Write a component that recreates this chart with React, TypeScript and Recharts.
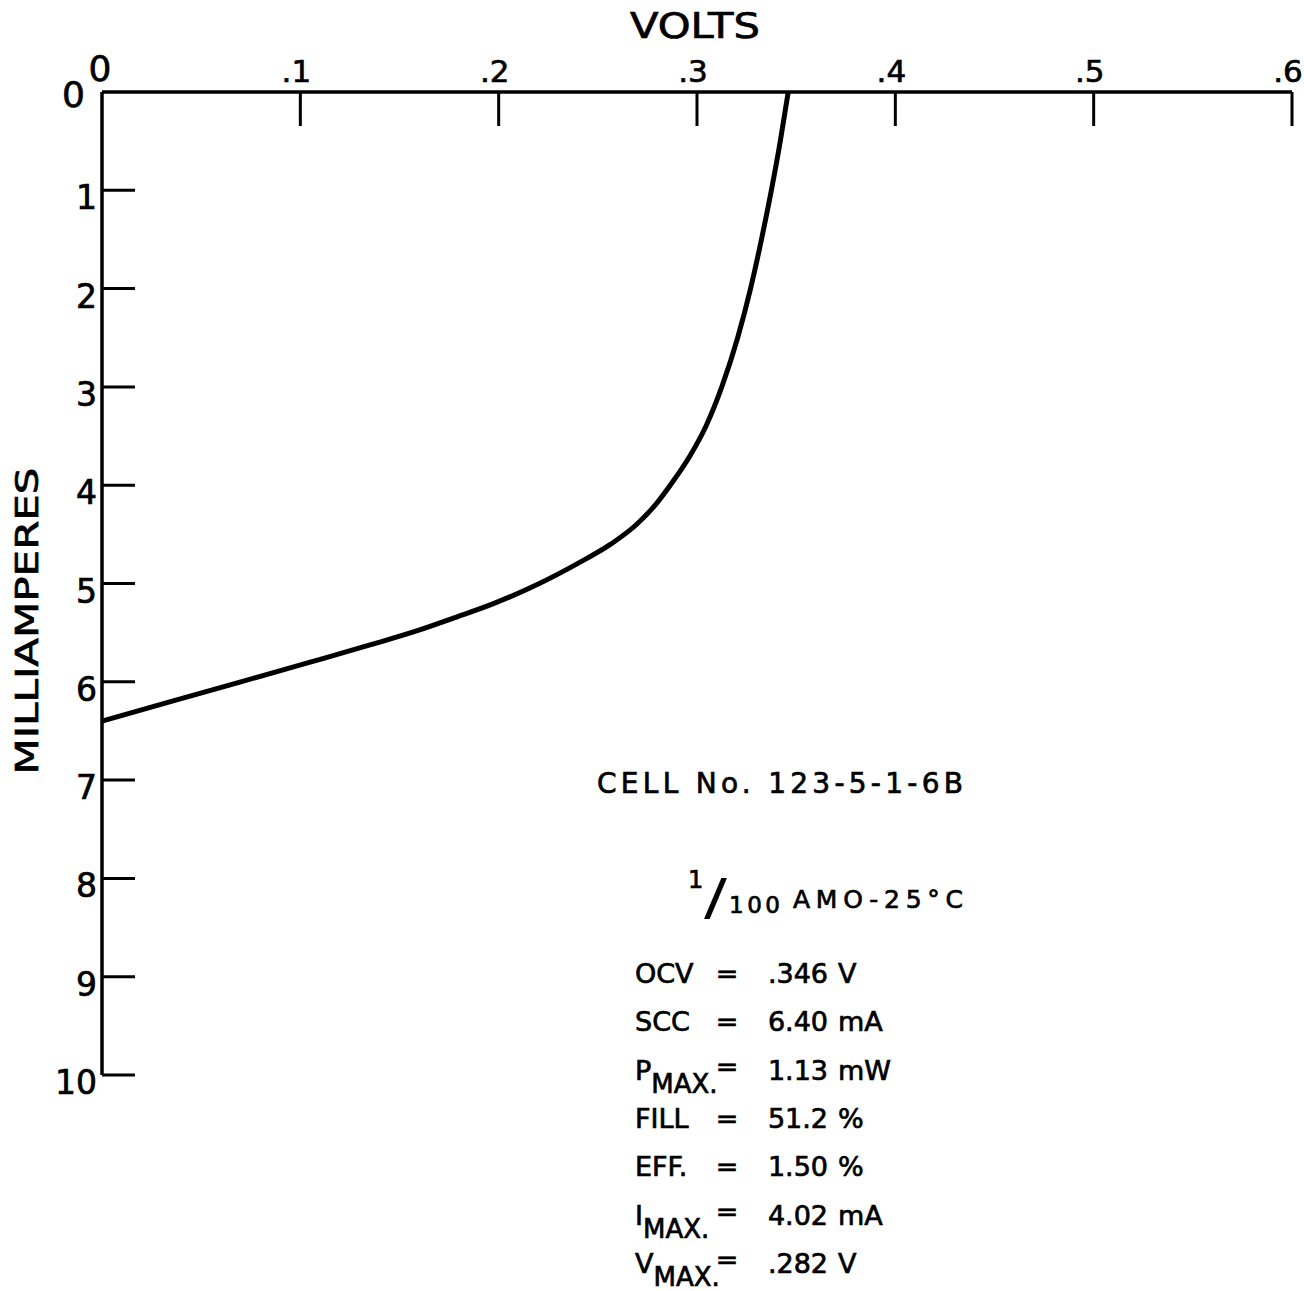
import React from 'react';
import { LineChart, Line, XAxis, YAxis } from 'recharts';

const volts = [0, 0.035, 0.07, 0.105, 0.136, 0.159, 0.1775, 0.198, 0.2205, 0.2395, 0.2565, 0.2695, 0.279, 0.2865, 0.2965, 0.3045, 0.3125, 0.3205, 0.327, 0.3325, 0.3375, 0.342, 0.346];
const milliamps = [6.4, 6.2, 6.0, 5.8, 5.62, 5.48, 5.35, 5.2, 5.0, 4.8, 4.6, 4.4, 4.2, 4.0, 3.7, 3.4, 3.0, 2.5, 2.0, 1.5, 1.0, 0.5, 0];

const xTicks = [0, 0.1, 0.2, 0.3, 0.4, 0.5, 0.6];
const xTickLabels = ['0', '.1', '.2', '.3', '.4', '.5', '.6'];
const yTicks = [0, 1, 2, 3, 4, 5, 6, 7, 8, 9, 10];
const yTickLabels = ['0', '1', '2', '3', '4', '5', '6', '7', '8', '9', '10'];

const cellTitle = 'CELL No. 123-5-1-6B';
const conditionSup = '1';
const conditionSub = '100';
const conditionText = 'AMO-25°C';
const paramNames = ['OCV', 'SCC', 'P', 'FILL', 'EFF.', 'I', 'V'];
const paramSubs = ['', '', 'MAX.', '', '', 'MAX.', 'MAX.'];
const paramValues = ['.346', '6.40', '1.13', '51.2', '1.50', '4.02', '.282'];
const paramUnits = ['V', 'mA', 'mW', '%', '%', 'mA', 'V'];

const data = volts.map((v, i) => ({ v, i: milliamps[i] }));

const FONT = '"DejaVu Sans", sans-serif';
const TXT = { fontFamily: FONT, fill: '#000', stroke: '#000', strokeWidth: 0.7 };

const XTick = (props: any) => {
  const { x, y, payload } = props;
  const idx = xTicks.indexOf(payload.value);
  const label = xTickLabels[idx];
  if (payload.value === 0) {
    return (
      <text x={x - 2} y={y - 11} textAnchor="middle" fontSize={36} {...TXT}>
        {label}
      </text>
    );
  }
  return (
    <g>
      <line x1={x} y1={y} x2={x} y2={y + 34} stroke="#000" strokeWidth={3} />
      <text x={x - 4} y={y - 10} textAnchor="middle" fontSize={31} {...TXT}>
        {label}
      </text>
    </g>
  );
};

const YTick = (props: any) => {
  const { x, y, payload } = props;
  const idx = yTicks.indexOf(payload.value);
  const label = yTickLabels[idx];
  if (payload.value === 0) {
    return (
      <text x={x - 17} y={y + 15} textAnchor="end" fontSize={36} {...TXT}>
        {label}
      </text>
    );
  }
  return (
    <g>
      <line x1={x} y1={y} x2={x + 33} y2={y} stroke="#000" strokeWidth={3} />
      <text x={x - 5} y={y + 19} textAnchor="end" fontSize={33} {...TXT}>
        {label}
      </text>
    </g>
  );
};

const Annotations = () => {
  const rowY0 = 983;
  const rowStep = 48.3;
  return (
    <g {...TXT}>
      <text x={695} y={38} textAnchor="middle" fontSize={36} textLength={130} lengthAdjust="spacingAndGlyphs">
        VOLTS
      </text>
      <text
        x={27}
        y={621}
        textAnchor="middle"
        dominantBaseline="central"
        fontSize={32}
        textLength={307}
        lengthAdjust="spacingAndGlyphs"
        transform="rotate(-90, 27, 621)"
      >
        MILLIAMPERES
      </text>
      <text x={597} y={793} fontSize={28} textLength={366} lengthAdjust="spacing">
        {cellTitle}
      </text>
      <text x={688} y={888} fontSize={24}>{conditionSup}</text>
      <text x={704} y={914} fontSize={50} strokeWidth={0} textLength={23} lengthAdjust="spacingAndGlyphs">/</text>
      <text x={729} y={913} fontSize={23} textLength={51} lengthAdjust="spacing">{conditionSub}</text>
      <text x={793} y={908} fontSize={25} textLength={170} lengthAdjust="spacing">{conditionText}</text>
      {paramNames.map((name, k) => {
        const y = rowY0 + k * rowStep;
        const hasSub = paramSubs[k] !== '';
        return (
          <g key={name + k}>
            <text x={635} y={y} fontSize={27}>
              {name}
              {hasSub ? (
                <tspan dy={13} fontSize={26}>{paramSubs[k]}</tspan>
              ) : null}
            </text>
            <text x={727} y={hasSub ? y - 4 : y} textAnchor="middle" fontSize={27}>=</text>
            <text x={828} y={y} textAnchor="end" fontSize={27}>{paramValues[k]}</text>
            <text x={838} y={y} fontSize={27}>{paramUnits[k]}</text>
          </g>
        );
      })}
    </g>
  );
};

export default function App() {
  return (
    <div style={{ position: 'absolute', left: 0, top: 0, background: '#fff' }}>
      <LineChart
        width={1304}
        height={1291}
        data={data}
        margin={{ top: 62, right: 12, bottom: 216, left: 42 }}
      >
        <XAxis
          type="number"
          dataKey="v"
          orientation="top"
          domain={[0, 0.6]}
          ticks={xTicks}
          interval={0}
          tickSize={0}
          tickMargin={0}
          height={30}
          axisLine={{ stroke: '#000', strokeWidth: 3.5 }}
          tickLine={false}
          tick={<XTick />}
        />
        <YAxis
          type="number"
          domain={[0, 10]}
          reversed
          ticks={yTicks}
          interval={0}
          tickSize={0}
          tickMargin={0}
          width={60}
          axisLine={{ stroke: '#000', strokeWidth: 3.5 }}
          tickLine={false}
          tick={<YTick />}
        />
        <Line
          type="monotone"
          dataKey="i"
          stroke="#000"
          strokeWidth={5}
          dot={false}
          activeDot={false}
          isAnimationActive={false}
        />
        <Annotations />
      </LineChart>
    </div>
  );
}
